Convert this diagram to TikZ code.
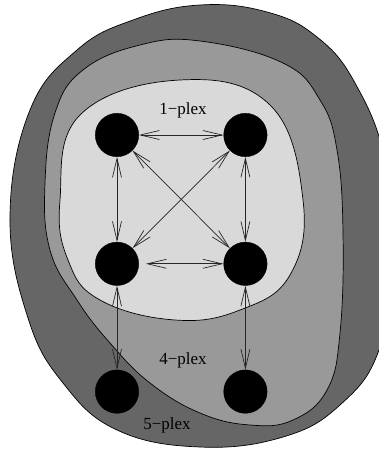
\documentclass[tikz,border=0pt]{standalone}
\usepackage{fontspec}
\setmainfont{Liberation Serif}
\usetikzlibrary{arrows.meta, positioning}

\begin{document}
\begin{tikzpicture}[
  x=1pt, y=-1pt,
  node distance=85pt and 84.6pt,
  every node/.style={font=\fontsize{17}{20}\selectfont},
  vertex/.style={circle, fill=black, draw=black, inner sep=0pt, minimum size=43.4pt},
  region/.style={draw=black, line width=0.7pt},
  arrow/.style={{Straight Barb[length=19pt, width=9pt]}-{Straight Barb[length=19pt, width=9pt]},
                line width=0.7pt, black!85}
]
  \useasboundingbox (0,0) rectangle (379,449);
  \clip (0,0) rectangle (379,449);

  % Nested plex regions (outermost first)
  \draw[region, fill=black!60] plot[smooth cycle, tension=0.7] coordinates {
    (10,217) (30,110) (77,50) (133,20) (200,5) (267,12) (317,37) (355,83)
    (385,160) (392,260) (379,350) (340,405) (283,437) (200,447) (117,430)
    (63,383) (28,318)};
  \draw[region, fill=black!40] plot[smooth cycle, tension=0.7] coordinates {
    (45,183) (55,113) (83,70) (140,45) (200,41) (283,63) (320,100) (337,150)
    (343,233) (340,333) (327,390) (293,420) (250,425) (200,413) (150,383)
    (110,343) (77,300) (50,250)};
  \draw[region, fill=black!15] plot[smooth cycle, tension=0.7] coordinates {
    (60,200) (80,115) (180,80) (270,105) (303,200) (290,275)
    (240,310) (175,320) (100,300) (68,260)};

  % Vertices
  \node[vertex] (a) at (117,135) {};
  \node[vertex, right=of a] (b) {};
  \node[vertex, below=of a] (c) {};
  \node[vertex, below=of b] (d) {};
  \node[vertex, below=84pt of c] (e) {};
  \node[vertex, below=84pt of d] (f) {};

  % Labels
  \node at (183,110) {1−plex};
  \node at (183,360) {4−plex};
  \node at (167,425) {5−plex};

  % Edges
  \draw[arrow] (a) -- (b);
  \draw[arrow, shorten <=7pt] (c) -- (d);
  \draw[arrow] (a) -- (c);
  \draw[arrow] (b) -- (d);
  \draw[arrow] (a) -- (d);
  \draw[arrow] (b) -- (c);
  \draw[arrow] (c) -- (e);
  \draw[arrow] (d) -- (f);
\end{tikzpicture}
\end{document}
